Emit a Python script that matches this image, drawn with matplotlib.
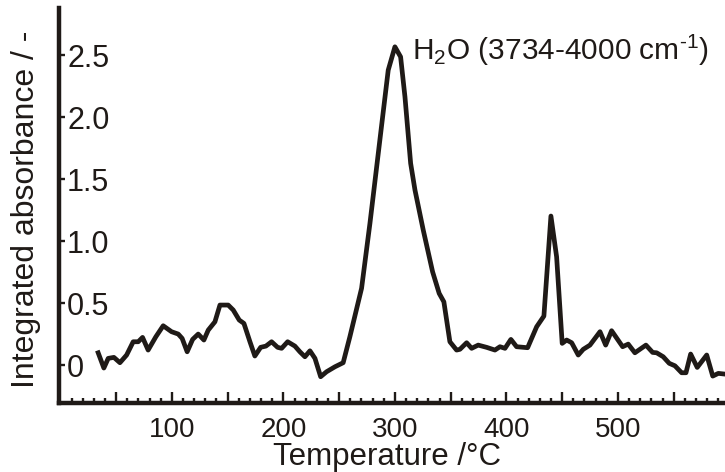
# H2O integrated absorbance vs temperature

import matplotlib
matplotlib.use('Agg')
import matplotlib.pyplot as plt

plt.rcParams['font.family'] = ['Liberation Sans', 'DejaVu Sans']
plt.rcParams['mathtext.fontset'] = 'custom'
plt.rcParams['mathtext.rm'] = 'Liberation Sans'
plt.rcParams['mathtext.it'] = 'Liberation Sans:italic'

temperature = [33.9, 39.0, 42.9, 48.0, 53.4, 59.4, 65.3, 69.8, 73.7, 78.7,
               85.6, 92.2, 99.7, 105.7, 109.2, 113.7, 118.6, 123.6, 128.7, 132.6,
               138.6, 143.1, 150.5, 155.0, 160.4, 164.6, 170.0, 174.4, 179.6, 184.3,
               189.4, 194.8, 198.4, 203.8, 210.3, 214.8, 219.3, 223.8, 228.3, 233.4,
               238.7, 246.2, 253.6, 259.6, 270.1, 277.6, 286.5, 294.0, 300.0, 305.1,
               309.0, 314.1, 318.0, 325.4, 333.8, 339.7, 343.9, 349.3, 355.3, 358.3,
               364.3, 368.8, 374.7, 382.2, 389.7, 394.2, 398.7, 404.0, 409.1, 419.0,
               427.1, 433.6, 439.9, 445.0, 450.0, 454.0, 458.5, 464.4, 468.9, 474.9,
               483.9, 489.0, 494.3, 504.2, 509.2, 515.2, 525.1, 531.1, 534.7, 540.6,
               546.0, 551.1, 557.1, 561.0, 565.2, 571.1, 579.6, 585.0, 590.0, 596.0]
absorbance = [0.099, -0.024, 0.054, 0.062, 0.019, 0.081, 0.188, 0.188, 0.223, 0.121,
              0.228, 0.317, 0.269, 0.250, 0.215, 0.107, 0.207, 0.250, 0.202, 0.282,
              0.349, 0.484, 0.484, 0.444, 0.363, 0.336, 0.188, 0.073, 0.143, 0.153,
              0.188, 0.143, 0.135, 0.188, 0.153, 0.107, 0.067, 0.115, 0.054, -0.094,
              -0.054, -0.014, 0.019, 0.228, 0.619, 1.143, 1.815, 2.379, 2.567, 2.486,
              2.164, 1.627, 1.411, 1.089, 0.752, 0.578, 0.510, 0.188, 0.121, 0.127,
              0.180, 0.135, 0.161, 0.143, 0.121, 0.148, 0.135, 0.207, 0.148, 0.140,
              0.309, 0.395, 1.202, 0.873, 0.175, 0.202, 0.180, 0.081, 0.127, 0.161,
              0.269, 0.161, 0.277, 0.148, 0.169, 0.099, 0.161, 0.102, 0.099, 0.067,
              0.014, -0.006, -0.062, -0.062, 0.089, -0.019, 0.081, -0.089, -0.067, -0.073]

x_major = [50, 100, 150, 200, 250, 300, 350, 400, 450, 500, 550]
x_major_labels = ['', '100', '', '200', '', '300', '', '400', '', '500', '']
y_ticks = [0, 0.5, 1.0, 1.5, 2.0, 2.5]
y_tick_labels = ['0', '0.5', '1.0', '1.5', '2.0', '2.5']

ink = '#1f1a17'

fig = plt.figure(figsize=(7.25, 4.72), dpi=100)
ax = fig.add_axes([58.7 / 725, 69 / 472, (725 - 58.7) / 725, 395 / 472])

ax.plot(temperature, absorbance, color=ink, linewidth=3.4, solid_joinstyle='round')

ax.set_xlim(-1.5, 596)
ax.set_ylim(-0.306, 2.88)

for side in ['top', 'right']:
    ax.spines[side].set_visible(False)
for side in ['left', 'bottom']:
    ax.spines[side].set_linewidth(3.2)
    ax.spines[side].set_color(ink)

ax.set_xticks(x_major)
ax.set_xticklabels(x_major_labels)
ax.set_xticks(range(10, 596, 10), minor=True)
ax.tick_params(axis='x', which='major', direction='in', length=8, width=1.7,
               color=ink, labelsize=20, pad=10, labelcolor=ink)
ax.tick_params(axis='x', which='minor', direction='in', length=3.8, width=1.7, color=ink)

ax.set_yticks(y_ticks)
ax.set_yticklabels(y_tick_labels)
ax.tick_params(axis='y', which='major', direction='in', length=4.5, width=1.7,
               color=ink, labelsize=22, pad=-6, labelcolor=ink)
for lbl in ax.get_yticklabels():
    lbl.set_horizontalalignment('left')

ax.text(315.2, 2.46, r'H$_2$O (3734-4000 cm$^{\text{-1}}$)', fontsize=21.5, color=ink,
        ha='left', va='baseline')

fig.text(26 / 725, 1 - 209 / 472, 'Integrated absorbance / -', rotation=90,
         fontsize=23, color=ink, ha='center', va='center')
fig.text(387.5 / 725, 7 / 472, 'Temperature /\u00b0C', fontsize=22.5, color=ink,
         ha='center', va='baseline')

fig.savefig('out.png', dpi=100)
